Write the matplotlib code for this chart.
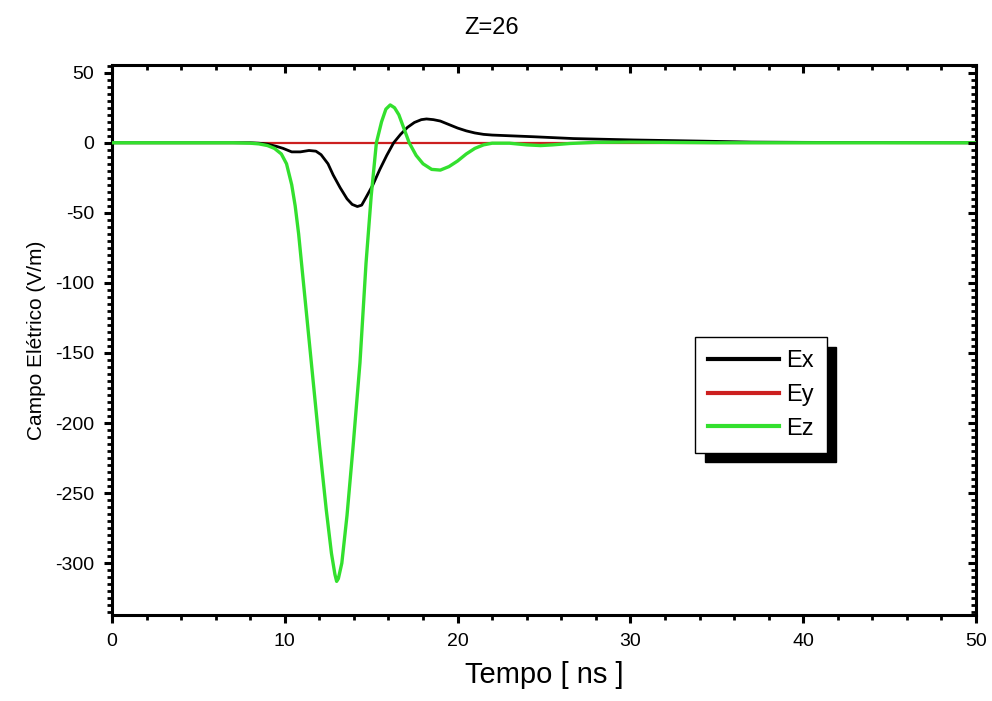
import matplotlib
matplotlib.use("Agg")
import matplotlib.pyplot as plt
from matplotlib.ticker import MultipleLocator

plt.rcParams['font.family'] = ['Liberation Sans', 'DejaVu Sans']
plt.rcParams['axes.unicode_minus'] = False

# ---- data ----
t_ex = [0, 8, 8.5, 9, 9.5, 9.9, 10.4, 10.9, 11.4, 11.8, 12.1, 12.5, 12.8, 13.2, 13.6,
        13.9, 14.2, 14.45, 14.7, 15.1, 15.5, 15.9, 16.3, 16.7, 17.1, 17.5, 17.9, 18.2,
        18.6, 19.0, 19.5, 20.0, 20.5, 21.0, 21.5, 22.0, 23.0, 24.4, 26.7, 30.2, 34.0,
        37.0, 40.0, 45.0, 50.0]
ex = [0, 0, -0.3, -1, -2.5, -4, -6.5, -6.5, -5.5, -6, -8.5, -15, -23, -32, -40,
      -44, -45.5, -44.5, -39, -30, -19, -9, 0, 6, 11, 14.5, 16.5, 17,
      16.5, 15.5, 13, 10.5, 8.5, 7, 6, 5.5, 5, 4.3, 3, 2, 1.2,
      0.5, 0.3, 0.1, 0]

t_ey = [0, 50]
ey = [0, 0]

t_ez = [0, 7, 8, 8.5, 9, 9.4, 9.8, 10.1, 10.4, 10.6, 10.8, 11.0, 11.2, 11.6, 12.0, 12.4,
        12.7, 12.9, 13.0, 13.1, 13.3, 13.6, 13.95, 14.35, 14.7, 15.0, 15.3, 15.6, 15.85,
        16.1, 16.35, 16.6, 16.9, 17.2, 17.6, 18.0, 18.5, 19.0, 19.5, 20.0, 20.5,
        21.0, 21.5, 22.0, 23.0, 24.0, 24.8, 25.5, 26.5, 28.0, 30.0, 32.0, 35.0,
        40.0, 45.0, 50.0]
ez = [0, 0, -0.3, -0.8, -2, -4, -8, -15, -30, -45, -65, -90, -115, -165, -215, -262,
      -293, -308, -313, -311, -300, -266, -217, -157, -86, -38, 0, 15, 24,
      27, 25, 20, 10, 0, -9, -15, -19, -19.5, -17, -13, -8,
      -4, -1.5, -0.3, -0.3, -1.5, -2, -1.5, -0.5, 0.3, 0.5, 0.3, 0,
      0, 0, 0]

labels = ["Ex", "Ey", "Ez"]
colors = ["#000000", "#cc1f1f", "#33e02e"]

fig = plt.figure(figsize=(9.92, 7.01), dpi=100)
rect = [112/992, 1-615/701, (976-112)/992, (615-65)/701]
ax = fig.add_axes(rect)

ax.plot(t_ex, ex, color=colors[0], lw=2.0, label=labels[0], zorder=3)
ax.plot(t_ey, ey, color=colors[1], lw=1.6, label=labels[1], zorder=2)
ax.plot(t_ez, ez, color=colors[2], lw=2.4, label=labels[2], zorder=4)

ax.set_xlim(0, 50)
ax.set_ylim(-337, 55.5)
ax.xaxis.set_major_locator(MultipleLocator(10))
ax.xaxis.set_minor_locator(MultipleLocator(2))
ax.yaxis.set_major_locator(MultipleLocator(50))
ax.yaxis.set_minor_locator(MultipleLocator(5))
for s in ax.spines.values():
    s.set_linewidth(2.2)
ax.tick_params(which='major', direction='out', length=6, width=2.2, labelsize=14, pad=7)
ax.tick_params(which='minor', direction='out', length=3.5, width=2.0)

# inward ticks on top and right, like the Origin frame
ov = fig.add_axes(rect, frameon=False, sharex=ax, sharey=ax)
ov.patch.set_visible(False)
ov.tick_params(which='both', direction='in', left=False, bottom=False, top=True, right=True,
               labelleft=False, labelbottom=False)
ov.tick_params(which='major', length=6, width=2.2)
ov.tick_params(which='minor', length=3.5, width=2.0)

ax.set_xlabel("Tempo [ ns ]", fontsize=21, labelpad=8)
ax.set_ylabel("Campo Elétrico (V/m)", fontsize=15, labelpad=6)
fig.text(0.4955, 1-28/701, "Z=26", ha='center', va='center', fontsize=17)

leg = ax.legend(loc='upper left', bbox_to_anchor=(695/992, 1-337/701),
                bbox_transform=fig.transFigure, fontsize=17, frameon=True,
                fancybox=False, framealpha=1, edgecolor='black', borderaxespad=0,
                handlelength=3.0, handletextpad=0.3, labelspacing=0.5, borderpad=0.55,
                shadow={'ox': 7, 'oy': -7, 'facecolor': 'black', 'edgecolor': 'black', 'alpha': 1})
leg.get_frame().set_linewidth(1.0)
for line in leg.get_lines():
    line.set_linewidth(3.0)
leg.set_zorder(10)

fig.savefig("out.png", dpi=100)
